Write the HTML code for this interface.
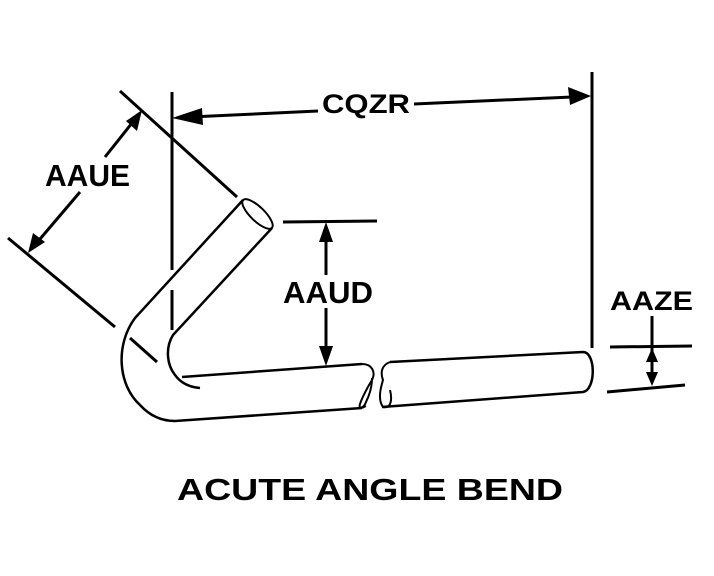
<!DOCTYPE html>
<html><head><meta charset="utf-8"><style>
html,body{margin:0;padding:0;background:#fff;}
svg{display:block;}
text{font-family:"Liberation Sans",Arial,sans-serif;font-weight:bold;fill:#000;}
</style></head><body>
<svg width="714" height="576" viewBox="0 0 714 576" xmlns="http://www.w3.org/2000/svg">
<g stroke="#000" fill="none" stroke-linecap="butt">
<!-- extension lines -->
<line x1="172" y1="92" x2="172" y2="270" stroke-width="3"/>
<line x1="172" y1="290" x2="172" y2="330" stroke-width="3"/>
<line x1="120" y1="91" x2="237" y2="197" stroke-width="3"/>
<line x1="8" y1="238" x2="115" y2="327" stroke-width="3"/>
<line x1="130" y1="338" x2="157" y2="362" stroke-width="3"/>
<line x1="592" y1="72" x2="592" y2="348" stroke-width="3"/>
<line x1="283" y1="222" x2="377" y2="221" stroke-width="3"/>
<line x1="610" y1="347" x2="692" y2="346" stroke-width="3"/>
<line x1="607" y1="392" x2="685" y2="385" stroke-width="3"/>
<!-- dimension lines -->
<line x1="190" y1="117" x2="318" y2="111" stroke-width="3"/>
<line x1="414" y1="104" x2="572" y2="97" stroke-width="3"/>
<line x1="105" y1="157" x2="132" y2="123" stroke-width="3"/>
<line x1="80" y1="192" x2="40" y2="239" stroke-width="3"/>
<line x1="326" y1="236" x2="326" y2="275" stroke-width="3"/>
<line x1="326" y1="308" x2="326" y2="352" stroke-width="3"/>
<line x1="652" y1="316" x2="652" y2="376" stroke-width="3"/>
<!-- tube -->
<path d="M243,200 L135,318 C115,345 118,385 140,405 C150,416 162,421 175,421 L362,408" stroke-width="2.5"/>
<path d="M272,228 L173,335 C165,348 167,365 175,375 C180,382 188,387 200,388" stroke-width="2.5"/>
<path d="M182,377 L362,364" stroke-width="2.5"/>
<ellipse cx="257.5" cy="214" rx="20" ry="7" transform="rotate(44 257.5 214)" stroke-width="2"/>
<!-- break left -->
<path d="M362,364 C372,364 376,372 372,380 C366,390 362,398 360,404 C358,410 364,408 366,402 C370,394 372,385 372,378" stroke-width="2"/>
<path d="M362,408 L366,406" stroke-width="2"/>
<!-- break right -->
<path d="M390,362 C382,365 380,372 383,380 C380,390 378,400 383,407 C392,409 392,398 390,390" stroke-width="2"/>
<path d="M390,362 L583,352 C596,352 596,390 583,392 L382,407" stroke-width="2.5"/>
</g>
<g fill="#000">
<polygon points="172,118 202,108 203,125"/>
<polygon points="591,96 568,87 570,105"/>
<polygon points="142,110 126,121 137,131"/>
<polygon points="28,253 45,242 33,233"/>
<polygon points="326,222 319,242 333,242"/>
<polygon points="326,366 319,346 333,346"/>
<polygon points="652,348 646,362 658,362"/>
<polygon points="652,386 646,372 658,372"/>
</g>
<text x="45" y="186" font-size="31" textLength="85" lengthAdjust="spacingAndGlyphs">AAUE</text>
<text x="322" y="113" font-size="27" textLength="88" lengthAdjust="spacingAndGlyphs">CQZR</text>
<text x="283" y="303" font-size="31" textLength="90" lengthAdjust="spacingAndGlyphs">AAUD</text>
<text x="610" y="310" font-size="27" textLength="83" lengthAdjust="spacingAndGlyphs">AAZE</text>
<text x="177" y="500" font-size="31" textLength="386" lengthAdjust="spacingAndGlyphs">ACUTE ANGLE BEND</text>
</svg>
</body></html>
